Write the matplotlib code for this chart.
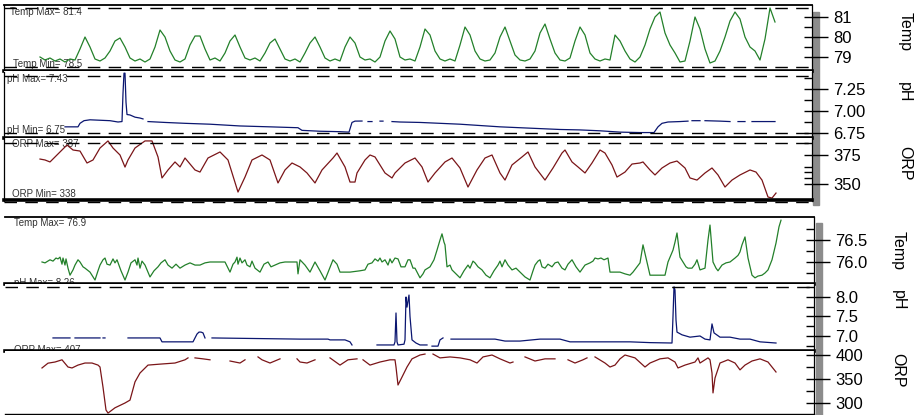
import numpy as np
import matplotlib
matplotlib.use('Agg')
import matplotlib.pyplot as plt
from matplotlib.patches import Rectangle

plt.rcParams['font.family'] = ['Liberation Sans', 'DejaVu Sans']

W, H = 922, 415

# ---- upper chart (time index 40..775, step 5 for temperature) ----
top_temp_start, top_temp_step = 40, 5
top_temp = [
    79.0, 78.85, 78.95, 78.8, 78.9, 78.75, 78.9, 78.85, 79.4, 80.0,
    79.5, 78.9, 78.8, 78.95, 79.3, 79.8, 79.95, 79.5, 78.95, 78.8,
    78.9, 78.75, 78.9, 79.5, 80.35, 80.0, 79.3, 78.85, 78.75, 78.9,
    79.6, 80.05, 80.05, 79.4, 78.85, 78.95, 78.8, 79.2, 79.8, 80.1,
    79.5, 78.95, 78.85, 78.95, 78.8, 79.2, 79.7, 79.9, 79.4, 78.9,
    78.8, 78.9, 78.75, 79.2, 79.7, 80.0, 79.5, 78.95, 78.8, 78.9,
    78.8, 79.5, 80.0, 79.7, 79.0, 78.85, 78.9, 78.75, 79.0, 79.8,
    80.3, 79.9, 79.0, 78.85, 78.9, 78.8, 79.5, 80.4, 80.1, 79.3,
    78.9, 78.8, 78.9, 78.8, 79.6, 80.5, 80.1, 79.3, 78.9, 78.8,
    78.85, 79.2, 80.0, 80.5, 79.8, 79.1, 78.85, 78.8, 78.9, 79.3,
    80.2, 80.65, 79.9, 79.2, 78.85, 78.8, 78.95, 79.8, 80.5, 80.1,
    79.2, 78.9, 78.8, 78.9, 78.85, 80.1, 79.8, 79.3, 78.9, 78.75,
    79.0, 79.6, 80.4, 81.0, 81.25, 80.2, 79.6, 79.2, 78.75, 78.8,
    79.8, 81.0, 80.4, 79.4, 78.7, 78.8, 79.3, 80.0, 80.8, 81.25,
    80.9, 80.0, 79.5, 79.3, 78.85, 79.9, 81.45, 80.75,
]

top_ph = [
    (65, 6.82), (78, 6.82), (80, 6.86), (84, 6.89), (90, 6.90), (100, 6.895),
    (110, 6.89), (118, 6.875), (122, 6.88), (123, 7.2), (124, 7.43), (125, 7.43),
    (126, 7.1), (127, 6.96), (130, 6.955), (135, 6.93), (140, 6.92), (143, 6.91),
    None, (148, 6.88), (165, 6.87), (185, 6.86), (210, 6.85), (240, 6.83),
    (270, 6.82), (298, 6.81), (302, 6.78), (320, 6.77), (340, 6.765), (349, 6.76),
    (352, 6.87), (355, 6.885), (362, 6.886), None, (368, 6.88), (372, 6.88), None,
    (380, 6.885), (383, 6.885), None, (392, 6.88), (400, 6.875), (420, 6.87),
    (440, 6.86), (460, 6.85), (480, 6.835), (500, 6.82), (520, 6.81), (540, 6.80),
    (560, 6.79), (580, 6.785), (600, 6.775), (620, 6.76), (640, 6.755), (654, 6.755),
    (658, 6.82), (662, 6.86), (668, 6.875), (680, 6.88), (688, 6.885), None,
    (692, 6.89), (700, 6.89), None, (705, 6.89), (720, 6.885), (730, 6.88), None,
    (738, 6.88), (745, 6.88), None, (752, 6.88), (775, 6.88),
]

top_orp = [
    (40, 371.5), (45, 370.7), (50, 369.0), (55, 373.3), (60, 377.6), (67, 383.6),
    (73, 379.3), (80, 378.4), (87, 368.1), (93, 370.7), (100, 381.0), (108, 387.1),
    (113, 381.0), (120, 375.0), (125, 364.6), (128, 370.7), (135, 381.0), (145, 387.1),
    (152, 387.1), (158, 373.3), (162, 355.2), (168, 362.1), (175, 369.0), (180, 364.7),
    (185, 372.4), (195, 362.1), (200, 360.3), (208, 372.4), (220, 377.6), (228, 370.7),
    (238, 343.1), (245, 356.0), (252, 370.7), (262, 375.0), (270, 370.7), (278, 350.9),
    (285, 362.1), (292, 368.1), (300, 364.7), (307, 359.5), (315, 350.9), (322, 362.1),
    (333, 372.4), (337, 376.7), (345, 364.7), (350, 351.7), (355, 351.7), (357, 359.5),
    (365, 370.7), (370, 375.0), (375, 373.3), (385, 359.5), (392, 355.2), (395, 359.5),
    (405, 368.1), (415, 372.4), (422, 364.7), (428, 351.7), (435, 359.5), (445, 369.0),
    (452, 372.4), (460, 363.8), (468, 347.4), (477, 362.1), (485, 372.4), (492, 375.0),
    (500, 359.5), (505, 353.4), (512, 366.4), (522, 373.3), (528, 377.6), (535, 364.7),
    (545, 353.4), (553, 363.8), (562, 376.7), (565, 379.3), (572, 369.0), (578, 364.7),
    (585, 359.5), (592, 368.1), (600, 379.3), (605, 376.7), (612, 366.4), (617, 356.0),
    (625, 360.3), (632, 367.2), (640, 368.1), (643, 369.0), (650, 362.1), (655, 357.8),
    (662, 363.8), (670, 368.1), (677, 369.8), (685, 363.8), (690, 355.2), (697, 353.4),
    (705, 359.5), (712, 363.8), (718, 357.8), (725, 347.4), (732, 353.4), (740, 357.8),
    (750, 362.1), (756, 360.3), (762, 353.4), (768, 338.8), (772, 337.9), (776, 342.2),
]

# ---- lower chart ----
bot_temp = [
    (42, 76.00), (45, 75.98), (50, 76.05), (53, 76.02), (56, 76.09), (58, 76.07),
    (60, 76.11), (62, 75.95), (63, 76.09), (65, 75.93), (66, 76.07), (68, 75.86),
    (70, 75.70), (73, 75.82), (75, 75.93), (78, 76.05), (80, 76.00), (83, 75.89),
    (85, 75.86), (90, 75.77), (95, 75.59), (98, 75.80), (100, 75.93), (103, 76.05),
    (105, 76.09), (107, 75.95), (110, 75.93), (113, 76.07), (115, 75.98), (117, 76.05),
    (121, 75.80), (125, 75.59), (128, 75.77), (131, 75.98), (135, 76.05), (137, 75.93),
    (138, 76.09), (140, 75.86), (142, 76.02), (145, 75.93), (150, 75.66), (154, 75.80),
    (158, 75.89), (161, 75.98), (165, 76.05), (168, 75.93), (172, 75.86), (176, 75.95),
    (180, 75.86), (185, 75.93), (190, 75.98), (195, 75.93), (200, 75.93), (205, 75.98),
    (210, 76.00), (225, 76.00), (230, 75.77), (233, 75.95), (235, 76.00), (237, 76.11),
    (238, 75.95), (240, 76.09), (242, 75.98), (245, 76.05), (247, 75.93), (250, 75.89),
    (252, 76.02), (255, 75.86), (260, 75.77), (264, 75.95), (268, 76.00), (271, 75.89),
    (275, 75.93), (280, 75.98), (285, 76.00), (297, 76.00), (298, 75.73), (300, 76.05),
    (305, 75.93), (310, 75.77), (315, 76.00), (320, 75.80), (325, 75.59), (329, 75.82),
    (333, 76.05), (337, 75.95), (340, 75.77), (350, 75.77), (360, 75.80), (365, 75.82),
    (368, 75.95), (372, 75.98), (375, 76.07), (378, 76.02), (380, 76.09), (382, 76.00),
    (385, 76.05), (388, 75.93), (390, 76.07), (392, 75.98), (395, 76.09), (398, 76.07),
    (401, 75.89), (405, 75.89), (408, 76.05), (410, 76.05), (413, 75.86), (415, 75.86),
    (420, 75.64), (423, 75.73), (425, 75.82), (430, 75.89), (434, 76.05), (437, 76.27),
    (440, 76.50), (442, 76.64), (444, 76.45), (445, 76.39), (447, 75.89), (450, 75.93),
    (452, 75.82), (456, 75.73), (460, 75.64), (464, 75.80), (468, 75.93), (470, 75.86),
    (473, 76.02), (475, 75.98), (478, 75.89), (482, 75.82), (486, 75.70), (490, 75.64),
    (494, 75.80), (498, 75.93), (500, 76.02), (502, 75.89), (505, 76.05), (508, 75.93),
    (512, 75.82), (516, 75.86), (520, 75.77), (525, 75.66), (530, 75.59), (533, 75.80),
    (535, 75.93), (538, 76.02), (540, 76.05), (542, 75.89), (545, 75.86), (548, 75.95),
    (552, 75.89), (555, 75.98), (558, 76.00), (562, 75.86), (565, 75.82), (568, 75.95),
    (572, 76.05), (576, 75.89), (580, 75.77), (585, 75.93), (590, 75.98), (593, 76.02),
    (595, 76.09), (598, 76.07), (601, 76.09), (604, 76.05), (608, 76.09), (610, 75.77),
    (620, 75.77), (625, 75.73), (630, 75.70), (633, 75.77), (637, 75.89), (640, 75.98),
    (643, 76.39), (647, 76.00), (650, 75.70), (665, 75.70), (668, 76.00), (673, 76.27),
    (675, 76.45), (677, 76.66), (680, 76.11), (683, 76.00), (686, 75.89), (688, 75.86),
    (692, 75.86), (695, 75.95), (697, 76.05), (700, 75.82), (705, 75.86), (708, 76.50),
    (710, 76.84), (713, 76.00), (716, 75.86), (718, 75.80), (722, 75.93), (726, 75.98),
    (730, 76.00), (735, 76.09), (738, 76.15), (740, 76.23), (742, 76.39), (745, 76.57),
    (748, 76.09), (752, 75.70), (755, 75.64), (758, 75.68), (762, 75.70), (765, 75.75),
    (768, 75.82), (772, 76.05), (776, 76.43), (779, 76.80), (781, 76.95),
]

bot_ph = [
    (53, 6.95), (70, 6.95), None, (75, 6.95), (100, 6.95), None, (103, 6.95), (105, 6.95),
    None, (128, 6.95), (160, 6.95), (162, 6.85), (193, 6.85), (195, 6.95), (197, 7.05),
    (199, 7.10), (201, 7.10), (203, 7.08), (205, 6.95), None, (212, 6.95), (300, 6.92),
    (328, 6.92), (330, 6.90), (345, 6.90), (350, 6.85), (352, 6.77), None, (377, 6.77),
    (394, 6.77), (395, 6.85), (396, 7.59), (397, 6.85), (398, 6.77), (404, 6.79),
    (405, 6.90), (406, 8.00), (407, 7.74), (408, 7.90), (409, 8.05), (410, 7.50),
    (412, 6.90), (416, 6.82), (420, 6.77), (427, 6.77), None, (432, 6.74), (438, 6.74),
    (440, 6.90), (443, 6.95), None, (451, 6.92), (495, 6.92), (505, 6.87), (520, 6.87),
    (540, 6.92), (560, 6.92), (570, 6.85), (630, 6.85), (650, 6.83), (672, 6.82),
    (673, 7.5), (674, 8.26), (675, 8.18), (676, 7.41), (677, 7.10), (682, 7.03),
    (690, 6.97), (700, 7.00), (705, 6.92), (710, 6.90), (712, 7.31), (714, 7.08),
    (720, 6.97), (730, 6.97), (740, 6.92), (750, 6.92), (760, 6.85), (776, 6.82),
]

bot_orp = [
    (42, 373), (48, 383), (55, 385.4), (62, 390), (68, 375), (72, 373), (78, 379),
    (85, 383.3), (92, 383.3), (98, 379), (100, 375), (103, 333), (106, 285.4), (108, 279),
    (115, 290), (125, 300), (130, 306), (135, 344), (140, 362.5), (148, 379), (160, 381),
    (175, 383.3), (185, 390), (188, 394), None, (195, 394), (203, 392), (210, 390), None,
    (230, 387.5), (240, 383.3), (245, 390), None, (258, 396), (262, 390), (270, 383.3),
    (280, 392), None, (297, 392), (300, 385.4), (307, 383.3), (315, 390), None,
    (330, 394), (340, 379), (348, 390), (357, 392), None, (363, 390), (370, 379),
    (380, 385.4), (390, 390), (395, 390), (396, 375), (398, 337.5), (402, 354),
    (407, 375), (412, 392), (420, 400), (425, 402), None, (433, 402), (440, 394),
    (450, 396), (460, 394), (470, 390), (477, 383.3), (483, 396), (492, 400), (500, 392),
    (510, 383.3), (513, 385.4), None, (525, 396), (535, 387.5), (545, 392), (555, 392),
    None, (568, 390), (575, 383.3), (583, 390), (587, 394), None, (595, 396),
    (605, 383.3), (610, 375), (615, 379), (620, 392), (625, 400), (635, 394), (645, 375),
    (650, 383.3), (660, 392), (668, 394), (675, 385.4), (678, 373), (685, 379),
    (695, 385.4), (698, 394), (700, 383.3), (708, 394), (710, 390), (712, 362.5),
    (713, 321), (715, 352), (720, 383.3), (728, 390), (735, 383.3), (740, 369),
    (745, 379), (752, 387.5), (760, 392), (768, 385.4), (776, 364.6),
]

TEMP_C, PH_C, ORP_C = '#23802a', '#0b1670', '#7a1518'


def split(pairs):
    t = np.array([np.nan if p is None else p[0] for p in pairs], float)
    v = np.array([np.nan if p is None else p[1] for p in pairs], float)
    return t, v


def rect(x0, x1, y0, y1):
    return [x0 / W, (H - y1) / H, (x1 - x0) / W, (y1 - y0) / H]


def panel(fig, r, xlim, ylim, majors, labels, minors, color, t, v, name, name_x, name_y,
          top_lw, bottom_lw, left=True):
    ax = fig.add_axes(r)
    ax.set_facecolor('white')
    ax.plot(t, v, color=color, lw=0.9)
    ax.set_xlim(*xlim)
    ax.set_ylim(*ylim)
    ax.set_xticks([])
    ax.yaxis.tick_right()
    ax.set_yticks(majors, labels)
    ax.set_yticks(list(majors) + list(minors), minor=True)
    ax.yaxis.remove_overlapping_locs = False
    ax.tick_params(axis='y', which='major', direction='out', length=11.5, width=1,
                   labelsize=12, pad=4)
    ax.tick_params(axis='y', which='minor', direction='in', length=6, width=1)
    ax.spines['right'].set_linewidth(0.9)
    ax.spines['left'].set_linewidth(0.9 if left else 0)
    ax.spines['top'].set_linewidth(top_lw)
    ax.spines['bottom'].set_linewidth(bottom_lw)
    ax.text(name_x, name_y, name, transform=ax.transAxes, rotation=270,
            ha='center', va='center', fontsize=11.5)
    return ax


def dashed(ax, f):
    ax.plot([0, 1], [f, f], transform=ax.transAxes, color='black', lw=1,
            dashes=(9, 6), clip_on=False, zorder=2.6)


def note(ax, x, y, s):
    ax.text(x, y, s, transform=ax.transAxes, fontsize=7, color='#333333',
            ha='left', va='center', zorder=1)


fig = plt.figure(figsize=(W / 100, H / 100), dpi=100)

# gray bars next to the right edges
fig.add_artist(Rectangle((813 / W, (H - 205) / H), 6 / W, 193 / H,
                         transform=fig.transFigure, color='#8c8c8c', zorder=-1))
fig.add_artist(Rectangle((816 / W, 0), 6 / W, (H - 223) / H,
                         transform=fig.transFigure, color='#8c8c8c', zorder=-1))

tt = top_temp_start + top_temp_step * np.arange(len(top_temp))
xl_top = (4, 812)
ax1 = panel(fig, rect(4, 812, 5, 71.5), xl_top, (78.275, 81.6), [79, 80, 81],
            ['79', '80', '81'], [79.5, 80.5], TEMP_C, tt, top_temp,
            'Temp', 1.115, 0.6, 1.3, 2.6)
dashed(ax1, 0.955)
dashed(ax1, 0.068)
note(ax1, 0.0075, 0.9, 'Temp Max= 81.4')
note(ax1, 0.011, 0.12, 'Temp Min= 78.5')

t, v = split(top_ph)
ax2 = panel(fig, rect(4, 812, 71.5, 138.5), xl_top, (6.6875, 7.449), [6.75, 7.0, 7.25],
            ['6.75', '7.00', '7.25'], [6.875, 7.125, 7.375], PH_C, t, v,
            'pH', 1.115, 0.69, 0, 2.6)
dashed(ax2, 0.94)
dashed(ax2, 0.082)
note(ax2, 0.004, 0.895, 'pH Max= 7.43')
note(ax2, 0.004, 0.12, 'pH Min= 6.75')

t, v = split(top_orp)
ax3 = panel(fig, rect(4, 812, 138.5, 200.5), xl_top, (335.8, 389.2), [350, 375],
            ['350', '375'], [355, 360, 365, 385], ORP_C, t, v,
            'ORP', 1.115, 0.6, 0, 2.6)
dashed(ax3, 0.935)
dashed(ax3, -0.025)
note(ax3, 0.01, 0.91, 'ORP Max= 387')
note(ax3, 0.01, 0.1, 'ORP Min= 338')

xl_bot = (5, 814)
t, v = split(bot_temp)
ax4 = panel(fig, rect(5, 814, 217, 283.5), xl_bot, (75.511, 77.023), [76.0, 76.5],
            ['76.0', '76.5'], [75.75, 76.25, 76.75], TEMP_C, t, v,
            'Temp', 1.104, 0.5, 1.3, 2.6, left=False)
note(ax4, 0.011, 0.917, 'Temp Max= 76.9')
note(ax4, 0.011, 0.01, 'pH Max= 8.26')

t, v = split(bot_ph)
ax5 = panel(fig, rect(5, 814, 283.5, 350.5), xl_bot, (6.628, 8.346), [7.0, 7.5, 8.0],
            ['7.0', '7.5', '8.0'], [6.75, 7.25, 7.75, 8.25], PH_C, t, v,
            'pH', 1.104, 0.75, 0, 2.6, left=False)
dashed(ax5, 0.948)
note(ax5, 0.011, 0.01, 'ORP Max= 407')

t, v = split(bot_orp)
ax6 = panel(fig, rect(5, 814, 350.5, 413.5), xl_bot, (278.1, 409.4), [300, 350, 400],
            ['300', '350', '400'], [325, 375], ORP_C, t, v,
            'ORP', 1.104, 0.68, 0, 1.0, left=False)

fig.savefig('out.png', dpi=100)
